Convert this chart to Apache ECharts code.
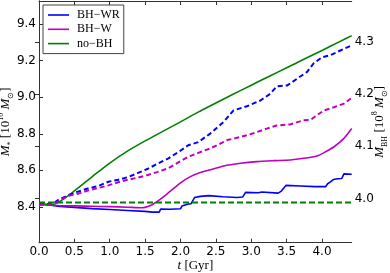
<!DOCTYPE html>
<html>
<head>
<meta charset="utf-8">
<script src="https://cdn.jsdelivr.net/npm/echarts@6/dist/echarts.min.js"></script>
<style>html,body{margin:0;padding:0;background:#fff}#c{width:390px;height:273px}</style>
</head>
<body>
<div id="c"></div>
<script>
// ---- data (t in Gyr) ----
const legendNames = ['BH\u2212WR', 'BH\u2212W', 'no\u2212BH'];
const xTicks = [0, 0.5, 1.0, 1.5, 2.0, 2.5, 3.0, 3.5, 4.0];
const leftTicks = [8.4, 8.6, 8.8, 9.0, 9.2, 9.4];
const rightTicks = [4.0, 4.1, 4.2, 4.3];

// BH-WR stellar mass [1e10 Msun]
const tWRstar = [0, 0.25, 0.5, 0.75, 1.0, 1.25, 1.5, 1.6, 1.7, 1.72, 1.85, 2.0, 2.02, 2.1, 2.15, 2.2, 2.28, 2.4, 2.6, 2.8, 2.88, 2.92, 3.1, 3.15, 3.38, 3.42, 3.49, 3.7, 3.9, 4.05, 4.08, 4.12, 4.16, 4.22, 4.28, 4.31, 4.42];
const mWRstar = [8.418, 8.405, 8.398, 8.391, 8.386, 8.381, 8.376, 8.372, 8.372, 8.389, 8.388, 8.390, 8.405, 8.415, 8.418, 8.452, 8.458, 8.462, 8.456, 8.452, 8.455, 8.480, 8.478, 8.482, 8.476, 8.485, 8.518, 8.515, 8.511, 8.511, 8.527, 8.537, 8.550, 8.554, 8.556, 8.581, 8.579];

// BH-W stellar mass
const tWstar = [0, 0.25, 0.5, 0.75, 1.0, 1.25, 1.45, 1.5, 1.6, 1.75, 2.0, 2.14, 2.28, 2.42, 2.61, 2.85, 3.08, 3.32, 3.55, 3.74, 3.93, 4.03, 4.17, 4.31, 4.42];
const mWstar = [8.418, 8.408, 8.406, 8.404, 8.402, 8.399, 8.396, 8.398, 8.412, 8.452, 8.532, 8.566, 8.588, 8.603, 8.624, 8.639, 8.648, 8.653, 8.657, 8.666, 8.679, 8.697, 8.729, 8.775, 8.829];

// no-BH stellar mass
const tNoStar = [0, 0.1, 0.2, 0.3, 0.4, 0.5, 0.75, 1.0, 1.25, 1.5, 1.75, 2.0, 2.25, 2.5, 2.75, 3.0, 3.25, 3.5, 3.75, 4.0, 4.25, 4.42];
const mNoStar = [8.418, 8.413, 8.414, 8.432, 8.458, 8.488, 8.565, 8.640, 8.705, 8.761, 8.813, 8.865, 8.918, 8.968, 9.017, 9.065, 9.113, 9.160, 9.208, 9.255, 9.303, 9.336];

// BH-WR black hole mass [1e8 Msun]
const tWRbh = [0, 0.2, 0.27, 0.41, 0.55, 0.69, 0.84, 0.98, 1.12, 1.26, 1.40, 1.54, 1.68, 1.83, 1.97, 2.11, 2.25, 2.42, 2.61, 2.75, 2.94, 3.13, 3.27, 3.36, 3.51, 3.65, 3.79, 3.88, 4.0, 4.12, 4.26, 4.42];
const mWRbh = [3.988, 3.990, 3.997, 4.006, 4.013, 4.019, 4.024, 4.032, 4.036, 4.041, 4.049, 4.057, 4.067, 4.077, 4.089, 4.102, 4.108, 4.1245, 4.147, 4.169, 4.177, 4.188, 4.201, 4.215, 4.217, 4.230, 4.243, 4.259, 4.271, 4.275, 4.284, 4.294];

// BH-W black hole mass
const tWbh = [0, 0.2, 0.27, 0.41, 0.55, 0.69, 0.84, 0.98, 1.12, 1.26, 1.40, 1.54, 1.68, 1.83, 1.97, 2.11, 2.28, 2.42, 2.56, 2.66, 2.85, 3.03, 3.22, 3.36, 3.55, 3.74, 3.84, 3.93, 4.03, 4.17, 4.31, 4.42];
const mWbh = [3.988, 3.989, 3.994, 4.005, 4.009, 4.015, 4.020, 4.025, 4.031, 4.036, 4.040, 4.045, 4.051, 4.058, 4.069, 4.080, 4.089, 4.096, 4.105, 4.112, 4.118, 4.125, 4.134, 4.140, 4.142, 4.150, 4.151, 4.160, 4.169, 4.175, 4.182, 4.193];

// no-BH reference (flat)
const tNoBh = [0, 4.42];
const mNoBh = [3.992, 3.992];

const zip = (a, b) => a.map((v, i) => [v, b[i]]);

const BLUE = '#0000ff', MAG = '#bf00bf', GRN = '#008000', AX = '#333';
const serif = 'Liberation Serif';
const rich = {
  i: {fontFamily: serif, fontStyle: 'italic', fontSize: 13, lineHeight: 18, color: '#000'},
  n: {fontFamily: serif, fontSize: 13, lineHeight: 18, color: '#000'},
  sub: {fontFamily: serif, fontSize: 8, lineHeight: 9, verticalAlign: 'bottom', color: '#000'},
  sup: {fontFamily: serif, fontSize: 8, lineHeight: 9, verticalAlign: 'top', color: '#000'}
};
const fmt1 = v => Number(v).toFixed(1);
const tickLbl = {fontFamily: 'DejaVu Sans', fontSize: 12, color: '#000'};
const lineIcon = 'path://M0,0M21,14M0,6.2L21,6.2L21,7.8L0,7.8Z';

const chart = echarts.init(document.getElementById('c'), null, {renderer: 'canvas'});
chart.setOption({
  animation: false,
  backgroundColor: '#fff',
  grid: {left: 39, right: 38.3, top: 1, bottom: 30.3, containLabel: false, outerBoundsMode: 'none'},
  legend: {
    data: legendNames.map(n => ({name: n, icon: lineIcon})),
    left: 43, top: 5, orient: 'vertical',
    itemWidth: 21, itemHeight: 14, itemGap: 0.3,
    padding: [3, 4, 3, 5],
    borderColor: '#444', borderWidth: 1, borderRadius: 0,
    backgroundColor: '#fff',
    itemStyle: {borderWidth: 0},
    textStyle: {fontFamily: serif, fontSize: 12, color: '#000', padding: [0, 0, 0, 3]}
  },
  xAxis: [{
    type: 'value', min: 0, max: 4.42, position: 'bottom',
    name: '{i|t} {n|[Gyr]}', nameLocation: 'middle', nameGap: 14, nameMoveOverlap: false,
    nameTextStyle: {rich: rich},
    axisLine: {show: true, lineStyle: {color: AX, width: 1}},
    axisTick: {show: true, inside: true, length: 4, lineStyle: {color: AX}, customValues: xTicks},
    axisLabel: Object.assign({margin: 3, formatter: fmt1, customValues: xTicks}, tickLbl),
    splitLine: {show: false}
  }, {
    type: 'value', min: 0, max: 4.42, position: 'top',
    axisLine: {show: true, lineStyle: {color: AX, width: 1}},
    axisTick: {show: true, inside: true, length: 4, lineStyle: {color: AX}, customValues: xTicks},
    axisLabel: {show: false},
    splitLine: {show: false}
  }],
  yAxis: [{
    type: 'value', min: 8.205, max: 9.525, position: 'left',
    name: '{i|M}{sub|*}{n| [10}{sup|10}{n| }{i|M}{sub|\u2299}{n|]}',
    nameLocation: 'middle', nameRotate: 90, nameGap: 24.5, nameMoveOverlap: false,
    nameTextStyle: {rich: rich},
    axisLine: {show: true, lineStyle: {color: AX, width: 1}},
    axisTick: {show: true, inside: true, length: 4, lineStyle: {color: AX}, customValues: leftTicks},
    axisLabel: Object.assign({margin: 3, formatter: fmt1, customValues: leftTicks}, tickLbl),
    splitLine: {show: false}
  }, {
    type: 'value', min: 3.915, max: 4.379, position: 'right',
    name: '{i|M}{sub|BH}{n| [10}{sup|8}{n| }{i|M}{sub|\u2299}{n|]}',
    nameLocation: 'middle', nameRotate: 90, nameGap: 19, nameMoveOverlap: false,
    nameTextStyle: {rich: rich},
    axisLine: {show: true, lineStyle: {color: AX, width: 1}},
    axisTick: {show: true, inside: true, length: 4, lineStyle: {color: AX}, customValues: rightTicks},
    axisLabel: Object.assign({margin: 3, formatter: fmt1, customValues: rightTicks}, tickLbl),
    splitLine: {show: false}
  }],
  series: [
    {name: legendNames[0], type: 'line', xAxisIndex: 0, yAxisIndex: 0, data: zip(tWRstar, mWRstar), showSymbol: false, symbol: 'none', lineStyle: {color: BLUE, width: 1.6}, itemStyle: {color: BLUE}},
    {name: legendNames[1], type: 'line', xAxisIndex: 0, yAxisIndex: 0, data: zip(tWstar, mWstar), showSymbol: false, symbol: 'none', smooth: 0.2, lineStyle: {color: MAG, width: 1.6}, itemStyle: {color: MAG}},
    {name: legendNames[2], type: 'line', xAxisIndex: 0, yAxisIndex: 0, data: zip(tNoStar, mNoStar), showSymbol: false, symbol: 'none', smooth: 0.3, lineStyle: {color: GRN, width: 1.6}, itemStyle: {color: GRN}},
    {name: 'BH-WR MBH', type: 'line', xAxisIndex: 0, yAxisIndex: 1, data: zip(tWRbh, mWRbh), showSymbol: false, symbol: 'none', lineStyle: {color: BLUE, width: 2, type: [5, 3]}, itemStyle: {color: BLUE}},
    {name: 'BH-W MBH', type: 'line', xAxisIndex: 0, yAxisIndex: 1, data: zip(tWbh, mWbh), showSymbol: false, symbol: 'none', lineStyle: {color: MAG, width: 2, type: [5, 3]}, itemStyle: {color: MAG}},
    {name: 'no-BH MBH', type: 'line', xAxisIndex: 0, yAxisIndex: 1, data: zip(tNoBh, mNoBh), showSymbol: false, symbol: 'none', lineStyle: {color: GRN, width: 2, type: [6, 3]}, itemStyle: {color: GRN}}
  ]
});
</script>
</body>
</html>
